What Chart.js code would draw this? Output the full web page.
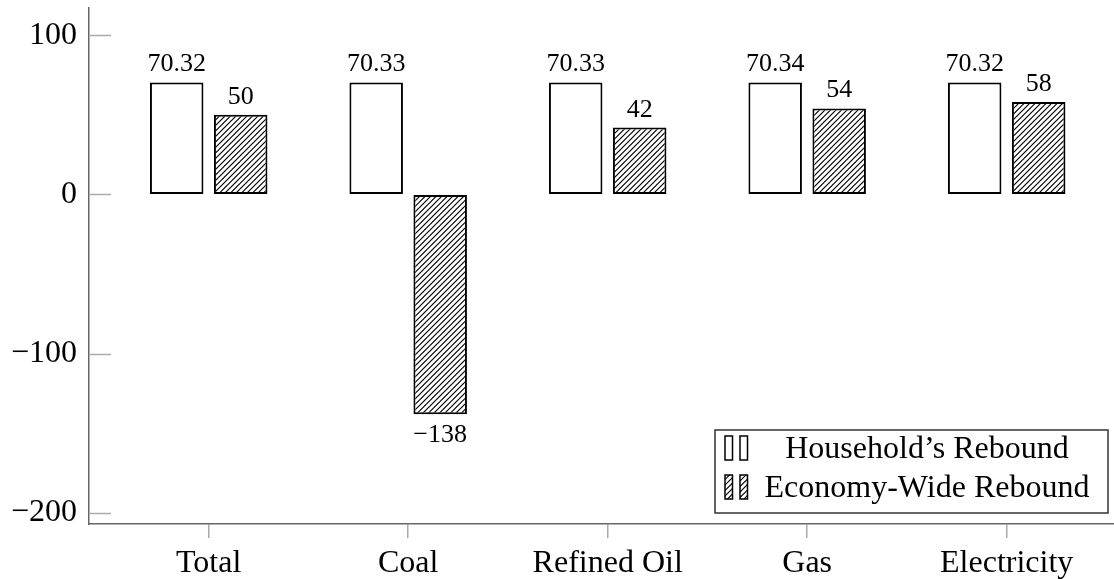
<!DOCTYPE html>
<html>
<head>
<meta charset="utf-8">
<script src="https://cdn.jsdelivr.net/npm/chart.js@4/dist/chart.umd.min.js"></script>
<style>
  html, body { margin: 0; padding: 0; background: #fff; }
  #wrap { width: 1114px; height: 579px; }
</style>
</head>
<body>
<div id="wrap"><canvas id="c" width="1114" height="579"></canvas></div>
<script>
// Rebound effect by energy type (%)
const categories = ['Total', 'Coal', 'Refined Oil', 'Gas', 'Electricity'];
const householdRebound = [70.32, 70.33, 70.33, 70.34, 70.32];
const economyWideRebound = [50, -138, 42, 54, 58];
const yTickValues = [-200, -100, 0, 100];
const seriesNames = ['Household\u2019s Rebound', 'Economy-Wide Rebound'];

const SERIF = '"Liberation Serif", "Times New Roman", serif';
const minus = s => String(s).replace('-', '\u2212');

// diagonal "north east lines" fill, two lines per 11px tile
function makeHatch(ctx) {
  const s = 11;
  const c = document.createElement('canvas');
  c.width = s; c.height = s;
  const g = c.getContext('2d');
  g.fillStyle = '#fff';
  g.fillRect(0, 0, s, s);
  g.strokeStyle = '#000';
  g.lineWidth = 1.15;
  g.beginPath();
  [0, 5.5, 11, 16.5, 22].forEach(k => {
    g.moveTo(k - s - 2, s + 2);
    g.lineTo(k + 2, -2);
  });
  g.stroke();
  return ctx.createPattern(c, 'repeat');
}

const canvas = document.getElementById('c');
const ctx = canvas.getContext('2d');
const hatch = makeHatch(ctx);

const decorations = {
  id: 'decorations',
  afterDatasetsDraw(chart) {
    const g = chart.ctx;
    g.save();
    g.fillStyle = '#000';
    g.font = '26px ' + SERIF;
    g.textAlign = 'center';
    g.textBaseline = 'alphabetic';
    chart.data.datasets.forEach((ds, di) => {
      const meta = chart.getDatasetMeta(di);
      meta.data.forEach((bar, i) => {
        const v = ds.data[i].y;
        const txt = di === 0 ? v.toFixed(2) : minus(v);
        if (v >= 0) {
          g.fillText(txt, bar.x, bar.y - 11);
        } else {
          g.fillText(txt, bar.x, bar.y + 28);
        }
      });
    });
    g.restore();
  },
  afterDraw(chart) {
    const g = chart.ctx;
    const area = chart.chartArea;
    const ys = chart.scales.y;
    g.save();
    // inward y tick marks
    g.strokeStyle = '#aaa';
    g.lineWidth = 1.5;
    yTickValues.forEach(v => {
      const y = Math.round(ys.getPixelForValue(v)) + 0.5;
      g.beginPath();
      g.moveTo(area.left + 1, y);
      g.lineTo(area.left + 22, y);
      g.stroke();
    });

    // legend
    const right = area.right - 6, bottom = area.bottom - 11;
    const w = 393, h = 83;
    const left = right - w, top = bottom - h;
    g.fillStyle = '#fff';
    g.fillRect(left, top, w, h);
    g.strokeStyle = '#333';
    g.lineWidth = 1.5;
    g.strokeRect(left, top, w, h);
    const rows = [top + 18, top + 57];
    chart.data.datasets.forEach((ds, di) => {
      const cy = rows[di];
      [10, 25].forEach(dx => {
        g.fillStyle = ds.backgroundColor;
        g.fillRect(left + dx, cy - 12, 7.5, 24);
        g.strokeStyle = '#000';
        g.lineWidth = 1.5;
        g.strokeRect(left + dx, cy - 12, 7.5, 24);
      });
      g.fillStyle = '#000';
      g.font = '32px ' + SERIF;
      g.textAlign = 'center';
      g.textBaseline = 'alphabetic';
      g.fillText(ds.label, left + 212, cy + 10);
    });
    g.restore();
  }
};

new Chart(ctx, {
  type: 'bar',
  data: {
    datasets: [
      {
        label: seriesNames[0],
        data: categories.map((_, i) => ({ x: i, y: householdRebound[i] })),
        backgroundColor: '#fff',
        borderColor: '#000',
        borderWidth: 2,
        borderSkipped: false,
        categoryPercentage: 0.6416,
        barPercentage: 0.836
      },
      {
        label: seriesNames[1],
        data: categories.map((_, i) => ({ x: i, y: economyWideRebound[i] })),
        backgroundColor: hatch,
        borderColor: '#000',
        borderWidth: 2,
        borderSkipped: false,
        categoryPercentage: 0.6416,
        barPercentage: 0.836
      }
    ]
  },
  options: {
    responsive: false,
    animation: false,
    devicePixelRatio: 1,
    layout: { padding: { top: 8, left: 0, right: 0, bottom: 0 } },
    plugins: { legend: { display: false }, tooltip: { enabled: false } },
    scales: {
      x: {
        type: 'linear',
        offset: false,
        min: -0.6,
        max: 4.538,
        afterBuildTicks: s => { s.ticks = categories.map((_, i) => ({ value: i })); },
        afterFit: s => { s.height = 55; s.paddingLeft = 0; s.paddingRight = 0; },
        grid: { offset: false, drawOnChartArea: false, drawTicks: true, tickLength: 14, color: '#aaa', lineWidth: 1.5 },
        border: { display: true, color: '#666', width: 1.5 },
        ticks: {
          padding: 6,
          color: '#000',
          maxRotation: 0,
          autoSkip: false,
          font: { family: SERIF, size: 32 },
          callback: v => categories[v] ?? ''
        }
      },
      y: {
        min: -207,
        max: 117.1,
        afterBuildTicks: s => { s.ticks = yTickValues.map(v => ({ value: v })); },
        afterFit: s => { s.width = 89; s.paddingTop = 0; s.paddingBottom = 0; },
        grid: { drawOnChartArea: false, drawTicks: false },
        border: { display: true, color: '#666', width: 1.5 },
        ticks: {
          padding: 12,
          color: '#000',
          font: { family: SERIF, size: 32 },
          callback: v => minus(v)
        }
      }
    }
  },
  plugins: [decorations]
});
</script>
</body>
</html>
